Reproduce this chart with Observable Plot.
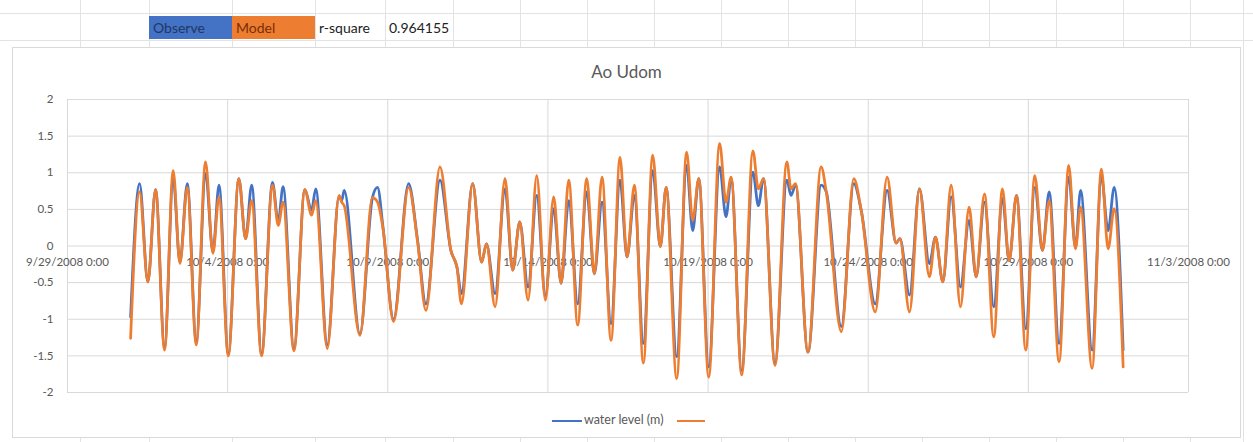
<!DOCTYPE html>
<html>
<head>
<meta charset="utf-8">
<script src="https://cdn.jsdelivr.net/npm/d3@7"></script>
<script src="https://cdn.jsdelivr.net/npm/@observablehq/plot@0.6"></script>
<style>
  html, body { margin: 0; padding: 0; background: #fff; }
  #page { position: relative; width: 1253px; height: 442px; overflow: hidden; font-family: Lato, "Open Sans", sans-serif; background: #fff; }
  .vline { position: absolute; top: 0; width: 1px; height: 442px; background: #e3e3e3; }
  .hline { position: absolute; left: 0; height: 1px; width: 1253px; background: #e3e3e3; }
  .cell { position: absolute; top: 16px; height: 23px; line-height: 23px; font-size: 14px; padding-left: 4px; box-sizing: border-box; white-space: nowrap; overflow: hidden; }
  #chartbox { position: absolute; left: 12px; top: 47px; width: 1229px; height: 391px; background: #fff; border: 1px solid #d9d9d9; box-sizing: border-box; }
  #title { position: absolute; left: 12px; width: 1229px; top: 61px; text-align: center; font-size: 17px; color: #595959; }
  .lg { position: absolute; }
  .sw { top: 420px; height: 2px; }
  #lgtext { top: 412px; left: 584px; font-size: 12.5px; color: #595959; line-height: 16px; }
  #chart { position: absolute; left: 0; top: 0; }
</style>
</head>
<body>
<div id="page">
  <div id="grid"></div>
  <div class="cell" style="left:149px;width:83px;background:#4472C4;color:#1f3864;">Observe</div>
  <div class="cell" style="left:232px;width:83px;background:#ED7D31;color:#7a2e07;">Model</div>
  <div class="cell" style="left:315px;width:70px;color:#222;">r-square</div>
  <div class="cell" style="left:385px;width:68px;color:#222;">0.964155</div>
  <div id="chartbox"></div>
  <div id="title">Ao Udom</div>
  <div id="chart"></div>
  <div class="lg sw" style="left:552px;width:30px;background:#4472C4"></div>
  <div class="lg" id="lgtext">water level (m)</div>
  <div class="lg sw" style="left:677px;width:28px;background:#ED7D31"></div>
</div>
<script>
// ---- Data ----
// time in days since 9/29/2008 0:00 (turning points of the tide curves)
const times = [
  1.97, 2.25, 2.51, 2.75, 3.03, 3.30, 3.51, 3.74, 4.02, 4.31,
  4.54, 4.73, 5.02, 5.35, 5.56, 5.75, 6.06, 6.40, 6.58, 6.73,
  7.07, 7.41, 7.62, 7.75, 8.11, 8.48, 8.56, 8.64, 9.13, 9.52,
  9.68, 9.85, 10.18, 10.65, 10.93, 11.19, 11.63, 11.97, 12.16, 12.30,
  12.65, 12.93, 13.08, 13.35, 13.66, 13.90, 14.12, 14.38, 14.65, 14.92,
  15.18, 15.41, 15.65, 15.93, 16.21, 16.45, 16.69, 16.97, 17.25, 17.47,
  17.70, 17.98, 18.27, 18.51, 18.69, 19.02, 19.33, 19.52, 19.71, 20.02,
  20.36, 20.56, 20.72, 21.05, 21.40, 21.57, 21.73, 22.09, 22.46, 22.59,
  22.73, 23.12, 23.53, 23.69, 24.16, 24.55, 24.78, 25.22, 25.59, 25.87,
  25.99, 26.29, 26.60, 26.91, 27.10, 27.33, 27.59, 27.88, 28.15, 28.37,
  28.63, 28.92, 29.19, 29.40, 29.63, 29.92, 30.20, 30.44, 30.65, 30.96,
  31.26, 31.47, 31.63, 31.99, 32.28, 32.49, 32.68, 32.96
];
const observed = [
  -0.97, 0.85, -0.49, 0.77, -1.38, 0.92, -0.22, 0.85, -1.30, 0.99,
  -0.08, 0.83, -1.47, 0.92, 0.10, 0.83, -1.47, 0.87, 0.33, 0.81,
  -1.40, 0.77, 0.49, 0.78, -1.35, 0.68, 0.62, 0.76, -1.20, 0.66,
  0.80, 0.26, -1.00, 0.85, 0.08, -0.79, 0.90, -0.06, -0.29, -0.65,
  0.85, -0.22, 0.03, -0.65, 0.78, -0.33, 0.33, -0.56, 0.69, -0.68,
  0.51, -0.51, 0.62, -0.79, 0.74, -0.38, 0.60, -1.06, 0.90, -0.15,
  0.69, -1.33, 1.03, -0.01, 0.80, -1.51, 1.10, 0.21, 0.92, -1.65,
  1.08, 0.40, 0.92, -1.70, 1.01, 0.55, 0.92, -1.60, 0.90, 0.69,
  0.83, -1.45, 0.83, 0.74, -1.10, 0.85, 0.49, -0.79, 0.76, 0.04,
  0.10, -0.67, 0.78, -0.24, 0.12, -0.49, 0.67, -0.56, 0.35, -0.42,
  0.60, -0.83, 0.65, -0.20, 0.69, -1.13, 0.80, -0.06, 0.74, -1.33,
  0.94, -0.02, 0.76, -1.42, 0.94, 0.21, 0.80, -1.42
];
const model = [
  -1.26, 0.74, -0.49, 0.77, -1.42, 1.03, -0.24, 0.80, -1.35, 1.15,
  -0.10, 0.67, -1.50, 0.92, 0.10, 0.62, -1.50, 0.83, 0.28, 0.60,
  -1.43, 0.77, 0.42, 0.62, -1.40, 0.69, 0.60, 0.55, -1.22, 0.66,
  0.60, 0.24, -1.03, 0.80, 0.06, -0.88, 1.08, -0.06, -0.29, -0.79,
  0.85, -0.22, 0.03, -0.83, 0.92, -0.33, 0.33, -0.74, 0.96, -0.74,
  0.67, -0.51, 0.90, -1.08, 0.92, -0.38, 0.94, -1.29, 1.21, -0.15,
  0.83, -1.60, 1.24, -0.01, 0.80, -1.81, 1.28, 0.35, 0.92, -1.79,
  1.40, 0.60, 0.94, -1.76, 1.30, 0.78, 0.92, -1.63, 1.15, 0.78,
  0.85, -1.45, 1.08, 0.74, -1.17, 0.92, 0.49, -0.90, 0.94, 0.04,
  0.10, -0.90, 0.78, -0.42, 0.12, -0.49, 0.83, -0.83, 0.53, -0.42,
  0.71, -1.24, 0.78, -0.20, 0.69, -1.42, 0.96, -0.06, 0.62, -1.58,
  1.10, -0.04, 0.53, -1.67, 1.05, -0.04, 0.51, -1.65
];
const xTickDays = [0, 5, 10, 15, 20, 25, 30, 35];
const xTickLabels = ["9/29/2008 0:00", "10/4/2008 0:00", "10/9/2008 0:00", "10/14/2008 0:00",
                     "10/19/2008 0:00", "10/24/2008 0:00", "10/29/2008 0:00", "11/3/2008 0:00"];
const yTicks = [-2, -1.5, -1, -0.5, 0, 0.5, 1, 1.5, 2];

// ---- spreadsheet background grid ----
const colLines = [80, 149, 232, 315, 385, 453, 520, 587, 654, 721, 788, 855, 922, 989, 1056, 1123, 1190, 1243];
const rowLines = [13, 40];
const grid = document.getElementById("grid");
colLines.forEach(x => { const d = document.createElement("div"); d.className = "vline"; d.style.left = x + "px"; grid.appendChild(d); });
rowLines.forEach(y => { const d = document.createElement("div"); d.className = "hline"; d.style.top = y + "px"; grid.appendChild(d); });

// ---- chart ----
const start = Date.UTC(2008, 8, 29);
const toDate = d => new Date(start + d * 86400000);
const data = times.map((t, i) => ({date: toDate(t), observed: observed[i], model: model[i]}));

const chart = Plot.plot({
  width: 1253,
  height: 442,
  marginLeft: 67,
  marginRight: 65,
  marginTop: 99,
  marginBottom: 50,
  style: {background: "transparent", fontFamily: "Lato, 'Open Sans', sans-serif", fontSize: "11.5px", color: "#595959"},
  x: {type: "utc", domain: [toDate(0), toDate(35)], axis: null},
  y: {domain: [-2, 2], axis: null},
  marks: [
    Plot.gridX(xTickDays.map(toDate), {stroke: "#d9d9d9", strokeOpacity: 1}),
    Plot.gridY(yTicks, {stroke: "#d9d9d9", strokeOpacity: 1}),
    Plot.axisY(yTicks, {tickSize: 0, tickPadding: 14, tickFormat: d => String(d), label: null, fill: "#595959", fontSize: 11.5}),
    Plot.text(xTickDays, {x: d => toDate(d), y: () => 0, text: (d, i) => xTickLabels[i], dy: 16, fill: "#595959", fontSize: 11.5}),
    Plot.line(data, {x: "date", y: "observed", stroke: "#4472C4", strokeWidth: 2.75, curve: "monotone-x"}),
    Plot.line(data, {x: "date", y: "model", stroke: "#ED7D31", strokeWidth: 2.75, curve: "monotone-x"})
  ]
});
document.getElementById("chart").appendChild(chart);
</script>
</body>
</html>
